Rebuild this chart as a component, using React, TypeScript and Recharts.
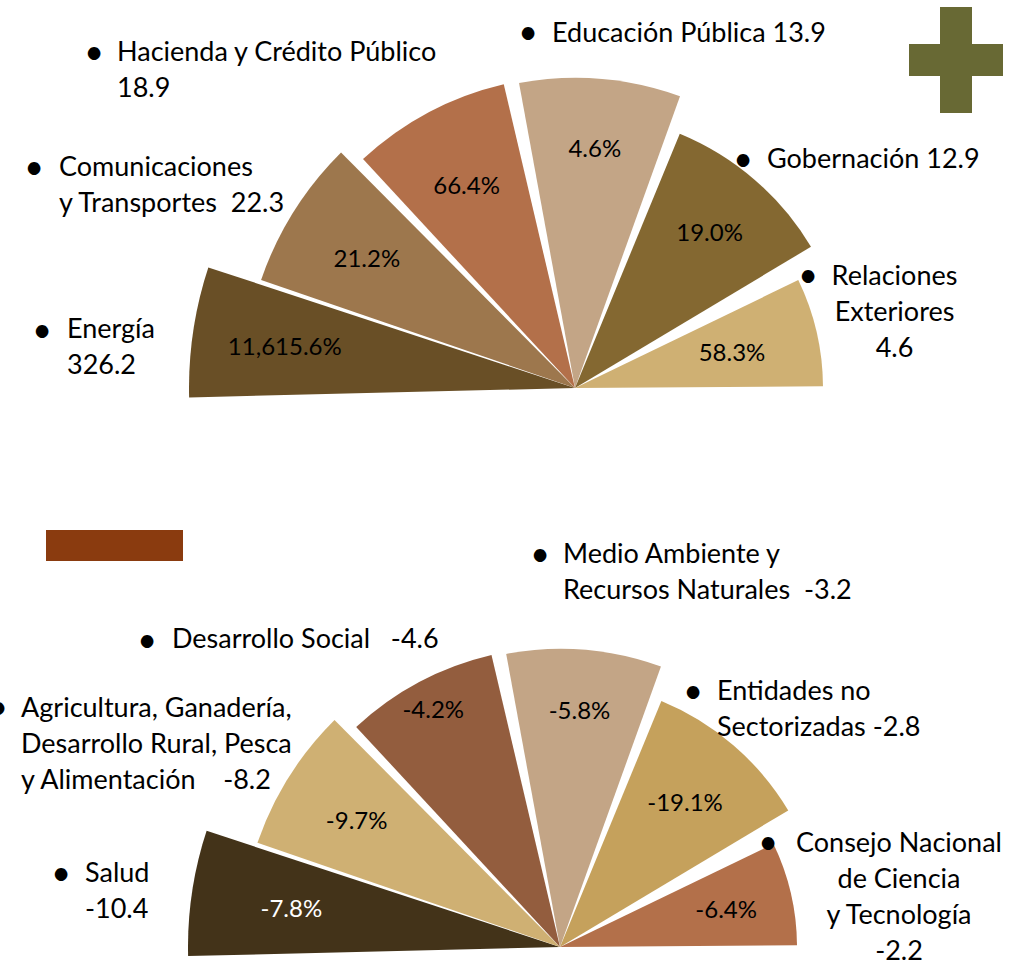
import React from 'react';
import { PieChart, Pie } from 'recharts';

// ---------- DATA ----------
const topCategories = [
  'Energía',
  'Comunicaciones y Transportes',
  'Hacienda y Crédito Público',
  'Educación Pública',
  'Gobernación',
  'Relaciones Exteriores',
];
const topValues = [326.2, 22.3, 18.9, 13.9, 12.9, 4.6];
const topChanges = [11615.6, 21.2, 66.4, 4.6, 19.0, 58.3];

const bottomCategories = [
  'Salud',
  'Agricultura, Ganadería, Desarrollo Rural, Pesca y Alimentación',
  'Desarrollo Social',
  'Medio Ambiente y Recursos Naturales',
  'Entidades no Sectorizadas',
  'Consejo Nacional de Ciencia y Tecnología',
];
const bottomValues = [-10.4, -8.2, -4.6, -3.2, -2.8, -2.2];
const bottomChanges = [-7.8, -9.7, -4.2, -5.8, -19.1, -6.4];

// ---------- LAYOUT / STYLE ----------
const FONT = 'Lato, "Open Sans", sans-serif';
const TEXT_SIZE = 27;
const PCT_SIZE = 24;
const LINE_H = 36;

const WEDGE_ANGLES: [number, number][] = [
  [181.4, 161.8],
  [161.0, 134.8],
  [132.8, 103.2],
  [100.4, 70.2],
  [67.6, 30.9],
  [25.8, 0.4],
];
const TOP_CENTER = { cx: 575, cy: 388 };
const BOTTOM_CENTER = { cx: 560, cy: 947 };
const TOP_RADII = [386, 332, 312, 310, 275, 248];
const BOTTOM_RADII = [372, 320, 300, 298, 266, 237];
const TOP_COLORS = ['#694f26', '#9d774d', '#b3704a', '#c3a586', '#846831', '#cfb073'];
const BOTTOM_COLORS = ['#433319', '#cfb073', '#935d3e', '#c3a586', '#c5a15c', '#b3704a'];
const TOP_PCT_COLORS = ['#000', '#000', '#000', '#000', '#000', '#000'];
const BOTTOM_PCT_COLORS = ['#fff', '#000', '#000', '#000', '#000', '#000'];
const TOP_LABEL_FRAC = [0.76, 0.74, 0.74, 0.78, 0.75, 0.65];
const BOTTOM_LABEL_FRAC = [0.73, 0.75, 0.9, 0.8, 0.72, 0.72];

type LabelLayout = {
  x: number; y: number; bx: number; by: number;
  align: 'left' | 'center'; breaks: number[]; sep: string | null;
};

const TOP_LABELS: LabelLayout[] = [
  { x: 67, y: 329, bx: 42, by: 331, align: 'left', breaks: [], sep: null },
  { x: 59, y: 166.5, bx: 34, by: 168, align: 'left', breaks: [1], sep: '  ' },
  { x: 117, y: 52, bx: 94, by: 53, align: 'left', breaks: [], sep: null },
  { x: 552, y: 32.5, bx: 528, by: 33, align: 'left', breaks: [], sep: ' ' },
  { x: 767, y: 159, bx: 743, by: 160, align: 'left', breaks: [], sep: ' ' },
  { x: 894.5, y: 275.5, bx: 808, by: 276, align: 'center', breaks: [1], sep: null },
];
const BOTTOM_LABELS: LabelLayout[] = [
  { x: 85, y: 872.5, bx: 61, by: 874, align: 'left', breaks: [], sep: null },
  { x: 21, y: 707.5, bx: -2, by: 708, align: 'left', breaks: [2, 5], sep: '    ' },
  { x: 172, y: 639, bx: 147, by: 641, align: 'left', breaks: [], sep: '   ' },
  { x: 563, y: 554, bx: 540, by: 555, align: 'left', breaks: [3], sep: '  ' },
  { x: 717, y: 691, bx: 693, by: 692, align: 'left', breaks: [2], sep: ' ' },
  { x: 899, y: 842.5, bx: 768, by: 843, align: 'center', breaks: [2, 4], sep: null },
];

// ---------- HELPERS ----------
const fmtPct = (v: number) =>
  `${v.toLocaleString('en-US', { minimumFractionDigits: 1, maximumFractionDigits: 1 })}%`;

const buildLines = (name: string, value: number, l: LabelLayout): string[] => {
  const words = name.split(' ');
  const lines: string[] = [];
  let start = 0;
  [...l.breaks, words.length].forEach((b) => {
    lines.push(words.slice(start, b).join(' '));
    start = b;
  });
  const v = value.toFixed(1);
  if (l.sep === null) lines.push(v);
  else lines[lines.length - 1] = lines[lines.length - 1] + l.sep + v;
  return lines;
};

const makePctLabel = (frac: number, color: string) => (props: any) => {
  const { cx, cy, midAngle, outerRadius } = props;
  const change = props.payload?.change ?? props.change;
  const r = outerRadius * frac;
  const rad = Math.PI / 180;
  const x = cx + r * Math.cos(-midAngle * rad);
  const y = cy + r * Math.sin(-midAngle * rad);
  return (
    <text x={x} y={y} textAnchor="middle" dominantBaseline="central" fill={color}
      fontSize={PCT_SIZE} fontFamily={FONT}>
      {fmtPct(change)}
    </text>
  );
};

const renderFan = (
  prefix: string, names: string[], values: number[], changes: number[],
  center: { cx: number; cy: number }, radii: number[], colors: string[],
  fracs: number[], pctColors: string[]
) =>
  names.map((name, i) => (
    <Pie
      key={`${prefix}-${i}`}
      data={[{ name, value: Math.abs(values[i]), change: changes[i] }]}
      dataKey="value"
      nameKey="name"
      cx={center.cx}
      cy={center.cy}
      startAngle={WEDGE_ANGLES[i][0]}
      endAngle={WEDGE_ANGLES[i][1]}
      innerRadius={0}
      outerRadius={radii[i]}
      fill={colors[i]}
      stroke="none"
      isAnimationActive={false}
      labelLine={false}
      label={makePctLabel(fracs[i], pctColors[i])}
    />
  ));

const OuterLabel = ({ name, value, layout }: { name: string; value: number; layout: LabelLayout }) => {
  const lines = buildLines(name, value, layout);
  const top = layout.y - LINE_H / 2 - 1;
  const textStyle: React.CSSProperties = {
    position: 'absolute',
    top,
    fontFamily: FONT,
    fontSize: TEXT_SIZE,
    lineHeight: `${LINE_H}px`,
    whiteSpace: 'pre',
    color: '#000',
    textAlign: layout.align,
    ...(layout.align === 'center'
      ? { left: layout.x - 150, width: 300 }
      : { left: layout.x }),
  };
  return (
    <>
      <div style={{
        position: 'absolute', left: layout.bx - 10, width: 20, top: layout.by - LINE_H / 2 - 2,
        textAlign: 'center', fontFamily: FONT, fontSize: 34, lineHeight: `${LINE_H}px`, color: '#000',
      }}>•</div>
      <div style={textStyle}>
        {lines.map((ln, k) => <div key={k}>{ln}</div>)}
      </div>
    </>
  );
};

export default function App() {
  return (
    <div style={{ position: 'absolute', left: 0, top: 0, width: 1015, height: 960, background: '#fff', overflow: 'hidden' }}>
      <PieChart width={1015} height={960} margin={{ top: 0, right: 0, bottom: 0, left: 0 }}>
        {renderFan('top', topCategories, topValues, topChanges, TOP_CENTER, TOP_RADII, TOP_COLORS, TOP_LABEL_FRAC, TOP_PCT_COLORS)}
        {renderFan('bottom', bottomCategories, bottomValues, bottomChanges, BOTTOM_CENTER, BOTTOM_RADII, BOTTOM_COLORS, BOTTOM_LABEL_FRAC, BOTTOM_PCT_COLORS)}
      </PieChart>
      {/* plus sign */}
      <div style={{ position: 'absolute', left: 940, top: 7, width: 32, height: 106, background: '#686934' }} />
      <div style={{ position: 'absolute', left: 909, top: 44, width: 94, height: 32, background: '#686934' }} />
      {/* minus bar */}
      <div style={{ position: 'absolute', left: 46, top: 530, width: 137, height: 31, background: '#8a3b0f' }} />
      {topCategories.map((n, i) => (
        <OuterLabel key={`tl-${i}`} name={n} value={topValues[i]} layout={TOP_LABELS[i]} />
      ))}
      {bottomCategories.map((n, i) => (
        <OuterLabel key={`bl-${i}`} name={n} value={bottomValues[i]} layout={BOTTOM_LABELS[i]} />
      ))}
    </div>
  );
}
